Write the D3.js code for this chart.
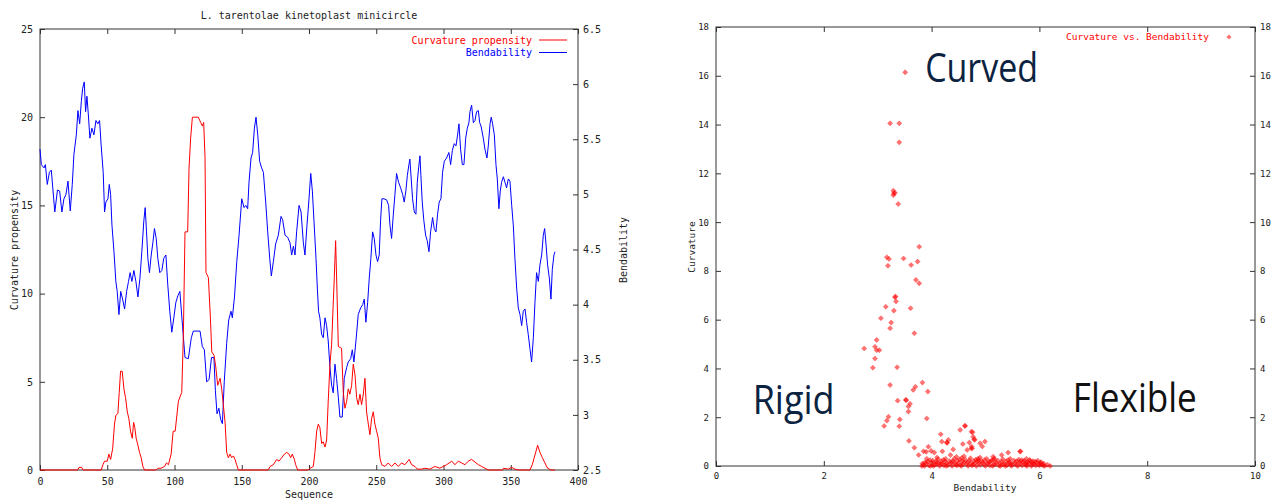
<!DOCTYPE html>
<html>
<head>
<meta charset="utf-8">
<script src="https://cdn.jsdelivr.net/npm/d3@7"></script>
<style>
  body { margin: 0; background: #fff; }
  svg { display: block; }
</style>
</head>
<body>
<script>
// ---- data ----
var seqTicks = [0, 50, 100, 150, 200, 250, 300, 350, 400];
var curvTicks = [0, 5, 10, 15, 20, 25];
var bendTicks = [2.5, 3, 3.5, 4, 4.5, 5, 5.5, 6, 6.5];
var scatXTicks = [0, 2, 4, 6, 8, 10];
var scatYTicks = [0, 2, 4, 6, 8, 10, 12, 14, 16, 18];

// curvature propensity along the sequence [position, value]
var curvature = [[0,0],[28,0],[29,0.15],[31,0.15],[32,0],[45.5,0],[46.8,0.3],[48,0.5],[50,0.5],[51.2,0.9],[52.5,0.6],[54,1.2],[55.4,2.6],[56.4,3.1],[57.9,3.2],[58.9,4.4],[59.9,5.6],[61.1,5.6],[62.4,4.6],[63.6,4.1],[64.9,3.3],[66.1,2.9],[67.3,2.2],[68.6,1.8],[69.6,2.7],[70.5,2.4],[71.5,1.8],[72.8,1.4],[74,1.0],[75.2,0.7],[76.5,0.2],[77.7,0],[86.4,0],[87.6,0.1],[90,0.1],[92.6,0.2],[94,0.4],[95.5,0.3],[97.5,0.9],[99,2.2],[100.5,2.2],[102.9,3.9],[105.4,4.4],[106.6,7.7],[107.8,13.5],[109.8,13.5],[110.8,17.1],[112,18.8],[113.3,20.0],[117.7,20.0],[119.5,19.7],[120.7,19.5],[121.7,19.7],[122.7,17.7],[123.4,11.2],[125.2,10.9],[126.7,8.6],[127.7,6.7],[129.4,6.5],[130.6,5.9],[132.1,4.8],[133.9,5.2],[135.1,4.6],[136.3,3.7],[137.6,2.7],[138.8,1.0],[140,0.7],[141.3,0.9],[142.5,0.7],[143.8,0.8],[145,0.6],[146.2,0.3],[147.5,0],[169.8,0],[171,0.2],[173.5,0.3],[176,0.6],[177.7,0.5],[179.7,0.7],[181.7,0.9],[183.4,1.0],[185.1,0.9],[186.4,0.7],[187.6,0.9],[189.1,0.6],[190.1,0.3],[191.6,0],[199.5,0],[200.8,0.1],[203.2,0.2],[204.4,1.0],[205.7,2.2],[206.9,2.6],[208.1,2.4],[209.4,1.5],[210.6,1.6],[211.9,1.3],[213.1,1.7],[214.3,3.9],[215.6,6.0],[216.8,7.1],[218,9.4],[218.8,10.9],[219.8,13.0],[220.8,10.1],[221.8,7.0],[224.2,6.9],[225.5,4.4],[226.7,3.5],[228,3.9],[229.2,4.6],[230.4,4.3],[231.7,4.8],[232.9,6.0],[234.2,5.4],[235.4,4.1],[236.6,3.7],[237.9,4.3],[239.1,3.7],[240.4,4.3],[241.6,5.2],[242.8,3.3],[244.1,2.6],[245.3,2.0],[246.5,2.9],[247.8,3.3],[249,2.6],[250.3,2.2],[251.5,1.8],[252.7,0.7],[254,0.3],[256.5,0.2],[258.9,0.4],[261.4,0.2],[263.9,0.4],[266.4,0.2],[268.8,0.4],[271.3,0.3],[274.5,0.6],[276.3,0.3],[278.8,0.2],[280.5,0.05],[283.7,0.05],[286.2,0.1],[289.9,0.05],[293.6,0.2],[297.3,0.1],[299.8,0.2],[302.3,0.3],[306.1,0.5],[308.5,0.3],[311,0.5],[313.5,0.4],[316,0.3],[318.4,0.5],[320.9,0.6],[323.4,0.45],[325.9,0.3],[328.4,0.2],[330.8,0.1],[333.3,0],[344,0],[344.5,0.1],[348.2,0.05],[350.7,0.15],[353.1,0.05],[355.6,0],[364.3,0],[366,0.3],[368,0.85],[370,1.4],[371.7,1.0],[373.5,0.7],[375.4,0.4],[377.4,0.1],[379.9,0],[382.9,0]];

// bendability along the sequence [position, value]
var bendability = [[0,5.41],[1,5.27],[3,5.24],[4,5.27],[5.4,5.09],[7,5.20],[8.4,5.22],[9.7,5.03],[11,4.84],[13,5.04],[14.6,5.03],[16.3,4.84],[17.8,4.96],[19.3,5.00],[20.8,5.12],[22.5,4.85],[24,5.09],[25.2,5.36],[27,5.54],[28.2,5.76],[29.5,5.64],[30.7,5.84],[31.7,5.96],[32.9,6.02],[33.9,5.75],[34.9,5.89],[35.9,5.73],[37.1,5.51],[38.6,5.60],[40.1,5.54],[41.6,5.67],[43,5.64],[44.3,5.67],[45.5,5.44],[47,5.20],[48,4.84],[49,4.93],[50.5,4.96],[51.5,5.09],[52.5,5.00],[53.5,4.72],[55,4.48],[56.4,4.21],[57.4,4.12],[58.7,3.91],[60,4.12],[61.4,4.05],[62.9,3.96],[64.4,4.12],[65.8,4.21],[67,4.29],[68.3,4.21],[69.8,4.31],[71.3,4.21],[72.8,4.07],[74.3,4.24],[75.7,4.48],[77.2,4.76],[78.2,4.88],[79.2,4.66],[80.2,4.42],[81.4,4.29],[82.7,4.45],[83.9,4.56],[85.1,4.69],[86.4,4.60],[87.6,4.42],[89.1,4.29],[90.6,4.31],[92,4.42],[93.6,4.45],[95,4.18],[96.5,3.94],[98,3.75],[99.5,3.88],[101,4.02],[102.5,4.08],[104,4.12],[106,3.80],[107.8,3.52],[110.3,3.51],[112.5,3.70],[114,3.76],[119,3.76],[120.7,3.62],[122.2,3.59],[123.9,3.30],[125.7,3.32],[127.5,3.52],[129.3,3.52],[130.4,3.22],[131.6,3.01],[133,3.06],[134.3,2.96],[135.6,2.92],[137,3.30],[138.8,3.65],[140.3,3.86],[142,3.94],[143,3.88],[144.6,4.07],[146.3,4.39],[148,4.63],[150,4.96],[151.7,4.88],[153,4.90],[154.4,4.87],[155.4,5.11],[156.9,5.33],[158.1,5.38],[159.4,5.60],[160.6,5.70],[161.9,5.54],[163.3,5.30],[164.8,5.24],[166.1,5.20],[167.8,4.93],[169.3,4.66],[170.8,4.42],[172,4.26],[173.5,4.39],[175.2,4.55],[177.2,4.63],[179.2,4.80],[180.4,4.77],[182.2,4.63],[184.2,4.61],[185.9,4.56],[187.1,4.45],[188.4,4.53],[189.6,4.45],[190.8,4.66],[192.6,4.90],[194.1,4.84],[195.8,4.56],[197,4.45],[198.5,4.72],[200,4.96],[201.3,5.19],[202.5,5.03],[203.7,4.76],[205.2,4.42],[206.2,4.15],[207.1,3.94],[208.1,3.88],[209.4,3.73],[210.6,3.70],[211.9,3.88],[213.1,3.81],[214.3,3.67],[215.6,3.43],[216.8,3.27],[218,3.20],[219.3,3.46],[220.5,3.33],[221.8,3.16],[223,2.98],[224.7,2.98],[226.2,3.33],[228,3.43],[229.2,3.48],[231,3.51],[232.2,3.59],[233.4,3.48],[234.9,3.67],[236.6,3.91],[238.4,3.97],[239.9,4.00],[241.1,4.05],[242.3,3.84],[243.6,4.02],[244.8,4.24],[246,4.42],[247.3,4.66],[248.5,4.60],[249.8,4.45],[251,4.39],[252.2,4.45],[253.2,4.76],[254.2,4.96],[255.7,4.96],[257.7,4.95],[259.2,4.90],[260.2,4.72],[261.4,4.60],[262.7,4.82],[263.9,5.00],[265.1,5.19],[266.6,5.11],[268.1,5.06],[269.6,5.00],[270.8,4.93],[272.1,5.04],[273.1,5.17],[274.3,5.27],[275,5.32],[276,5.14],[277,4.96],[278.3,4.84],[279.5,4.82],[280.5,5.11],[281.5,5.24],[282.5,5.35],[283.2,5.17],[284.2,4.93],[285.4,4.76],[286.7,4.63],[287.9,4.58],[289.2,4.48],[290.4,4.66],[291.9,4.79],[293.1,4.69],[294.4,4.66],[295.6,4.82],[296.8,4.93],[298.1,4.96],[299.3,5.20],[300.6,5.30],[302.3,5.33],[304,5.38],[305.3,5.27],[306.6,5.40],[308,5.46],[309.3,5.44],[310.5,5.54],[311.5,5.64],[312.7,5.41],[314,5.27],[315.2,5.27],[316.5,5.51],[317.7,5.60],[318.9,5.65],[319.7,5.75],[320.9,5.81],[322.2,5.65],[323.4,5.67],[324.6,5.75],[325.9,5.76],[326.9,5.65],[327.9,5.62],[329.6,5.51],[330.8,5.41],[332.3,5.33],[333.3,5.44],[334.6,5.64],[335.5,5.70],[336.5,5.64],[337.8,5.54],[339,5.27],[340,5.14],[341.2,4.87],[342.2,5.03],[343.2,5.11],[344.5,5.16],[345.7,5.11],[346.9,5.06],[348.2,5.14],[349.4,5.12],[350.7,4.90],[351.9,4.72],[353.1,4.42],[354.4,4.15],[355.6,3.97],[356.9,3.91],[358.1,3.81],[359.3,3.94],[360.6,3.96],[361.8,3.84],[363,3.73],[364.3,3.60],[365.5,3.48],[366.8,3.70],[368,4.02],[369.2,4.29],[370.5,4.21],[371.7,4.36],[373,4.45],[374.2,4.63],[375.2,4.69],[376.2,4.55],[377.4,4.36],[378.7,4.24],[379.9,4.05],[380.9,4.32],[382.1,4.45],[382.9,4.48]];

// curvature vs bendability scatter [bendability, curvature]
var scatter = [[3.51,16.14],[3.23,14.05],[3.40,14.05],[3.40,13.27],[3.29,11.29],[3.30,11.18],[3.32,11.2],[3.29,11.1],[3.38,10.74],[3.77,8.99],
  [3.17,8.56],[3.21,8.49],[3.19,8.21],[3.48,8.51],[3.62,8.24],[3.74,8.38],[3.71,7.63],[3.77,7.49],[3.32,6.92],[3.33,6.95],[3.34,6.75],
  [3.15,6.53],[3.30,6.37],[3.61,6.47],[3.06,6.06],[3.25,5.88],[3.23,5.65],[3.68,5.44],[2.98,5.17],[2.95,4.89],[2.75,4.82],[3.03,4.75],
  [2.98,4.75],[2.95,4.41],[2.91,4.03],[3.36,4.05],[3.83,3.42],[3.70,3.25],[3.66,3.12],[3.23,3.32],[3.93,3.05],[3.37,2.68],[3.52,2.71],
  [3.53,2.70],[3.60,2.55],[3.57,2.44],[3.57,2.23],[3.91,1.95],[3.20,2.02],[3.17,1.86],[3.12,1.64],[3.41,1.91],[3.40,1.63],[3.58,1.03],
  [3.68,0.75],[3.76,0.45],[3.94,0.79],[3.85,0.6],[3.9,0.58],[3.99,0.62],[4.05,0.55],[4.17,1.30],[4.19,1.0],[4.28,0.96],[4.29,0.95],
  [4.31,1.07],[4.2,0.6],[4.40,0.68],[4.46,0.38],[4.53,1.48],[4.62,1.65],[4.58,0.9],[4.70,0.96],[4.74,0.72],[4.75,0.73],[4.76,1.38],
  [4.79,1.1],[4.62,1.64],[4.74,1.41],[4.77,1.2],[4.80,1.07],[4.74,0.8],[4.90,0.93],[4.99,1.0],[4.94,0.8],[4.66,0.66],[5.14,0.38],
  [5.30,0.45],[5.42,0.55],[5.64,0.59],[5.65,0.6],[5.76,0.30],[5.82,0.25],[4.35,0.45],[4.1,0.35],[4.6,0.4],[4.9,0.35],
  [3.85,0.05],[3.9,0.1],[3.95,0.02],[4.0,0.12],[4.05,0.04],[4.1,0.15],[4.15,0.0],[4.2,0.08],[4.25,0.18],[4.3,0.03],[4.35,0.1],
  [4.4,0.2],[4.45,0.05],[4.5,0.12],[4.55,0.0],[4.6,0.16],[4.65,0.07],[4.7,0.22],[4.75,0.02],[4.8,0.11],[4.85,0.18],[4.9,0.04],
  [4.95,0.14],[5.0,0.0],[5.05,0.1],[5.1,0.2],[5.15,0.05],[5.2,0.13],[5.25,0.01],[5.3,0.17],[5.35,0.08],[5.4,0.03],[5.45,0.15],
  [5.5,0.06],[5.55,0.12],[5.6,0.0],[5.65,0.1],[5.7,0.18],[5.75,0.04],[5.8,0.11],[5.85,0.0],[5.9,0.08],[5.95,0.14],[6.0,0.02],
  [6.05,0.06],[6.1,0.0],[6.2,0.0],[3.88,0.15],[3.98,0.0],[4.08,0.06],[4.18,0.2],[4.28,0.1],[4.38,0.0],[4.48,0.22],[4.58,0.06],
  [4.68,0.0],[4.78,0.2],[4.88,0.12],[4.98,0.24],[5.08,0.02],[5.18,0.08],[5.28,0.0],[5.38,0.2],[5.48,0.0],[5.58,0.2],[5.68,0.02],
  [5.78,0.16],[5.88,0.2],[5.98,0.06],[6.08,0.1],[3.82,0.0],[4.12,0.28],[4.42,0.3],[4.72,0.32],[5.02,0.3],[5.32,0.28],[5.62,0.26],
  [4.02,0.22],[4.22,0.25],[4.52,0.27],[4.82,0.26],[5.12,0.22],[5.42,0.24],[5.72,0.22],[5.92,0.18],[6.02,0.12],
  [3.83,0.1],[3.93,0.18],[4.03,0.0],[4.13,0.1],[4.23,0.02],[4.33,0.2],[4.43,0.1],[4.53,0.04],[4.63,0.25],[4.73,0.1],[4.83,0.0],
  [4.93,0.2],[5.03,0.12],[5.13,0.0],[5.23,0.22],[5.33,0.06],[5.43,0.12],[5.53,0.22],[5.63,0.14],[5.73,0.08],[5.83,0.2],[5.93,0.02],
  [6.03,0.16],[3.87,0.0],[3.97,0.24],[4.07,0.18],[4.17,0.1],[4.27,0.0],[4.37,0.16],[4.47,0.02],[4.57,0.2],[4.67,0.14],[4.77,0.06],
  [4.87,0.24],[4.97,0.06],[5.07,0.18],[5.17,0.26],[5.27,0.1],[5.37,0.0],[5.47,0.08],[5.57,0.04],[5.67,0.24],[5.77,0.0],[5.87,0.12],
  [5.97,0.22],[6.07,0.02],[6.15,0.05],[4.26,0.3],[4.56,0.33],[4.86,0.3],[5.16,0.32],[5.46,0.3],[5.76,0.1],[5.86,0.06],[3.91,0.3]];

var notes = ["Curved", "Rigid", "Flexible"];

// ---- page ----
var W = 1284, H = 502;
var mono = "'DejaVu Sans Mono', monospace";
var svg = d3.select("body").append("svg").attr("width", W).attr("height", H);

function styleAxis(g, size) {
    g.select(".domain").remove();
    g.selectAll(".tick line").attr("stroke", "#333");
    g.selectAll(".tick text").attr("font-family", mono).attr("font-size", size).attr("fill", "#222");
}

// ================= left: sequence profile =================
var xL = d3.scaleLinear().domain([0, 400]).range([40, 578]);
var yL = d3.scaleLinear().domain([0, 25]).range([470, 29]);
var yR = d3.scaleLinear().domain([2.5, 6.5]).range([470, 29]);

svg.append("g").attr("transform", "translate(0,470)")
    .call(d3.axisBottom(xL).tickValues(seqTicks).tickSize(-5).tickPadding(8))
    .call(styleAxis, 10);
svg.append("g").attr("transform", "translate(0,29)")
    .call(d3.axisTop(xL).tickValues(seqTicks).tickSize(-5).tickFormat(""))
    .call(styleAxis, 10);
svg.append("g").attr("transform", "translate(40,0)")
    .call(d3.axisLeft(yL).tickValues(curvTicks).tickSize(-5).tickPadding(7))
    .call(styleAxis, 10);
svg.append("g").attr("transform", "translate(578,0)")
    .call(d3.axisRight(yR).tickValues(bendTicks).tickSize(-5).tickPadding(5).tickFormat(d => String(d)))
    .call(styleAxis, 10);

svg.append("rect").attr("x", 40).attr("y", 29).attr("width", 538).attr("height", 441)
    .attr("fill", "none").attr("stroke", "#333");

var lineCurv = d3.line().x(d => xL(d[0])).y(d => yL(d[1]));
var lineBend = d3.line().x(d => xL(d[0])).y(d => yR(d[1]));

svg.append("path").datum(bendability).attr("d", lineBend)
    .attr("fill", "none").attr("stroke", "#0000ff").attr("stroke-width", 1);
svg.append("path").datum(curvature).attr("d", lineCurv)
    .attr("fill", "none").attr("stroke", "#ff0000").attr("stroke-width", 1);

svg.append("text").attr("x", 309).attr("y", 19).attr("text-anchor", "middle")
    .attr("font-family", mono).attr("font-size", 10).attr("fill", "#222")
    .text("L. tarentolae kinetoplast minicircle");
svg.append("text").attr("x", 309).attr("y", 498).attr("text-anchor", "middle")
    .attr("font-family", mono).attr("font-size", 10).attr("fill", "#222").text("Sequence");
svg.append("text").attr("transform", "translate(18,250) rotate(-90)").attr("text-anchor", "middle")
    .attr("font-family", mono).attr("font-size", 10).attr("fill", "#222").text("Curvature propensity");
svg.append("text").attr("transform", "translate(627,250) rotate(-90)").attr("text-anchor", "middle")
    .attr("font-family", mono).attr("font-size", 10).attr("fill", "#222").text("Bendability");

var legL = [["Curvature propensity", "#ff0000"], ["Bendability", "#0000ff"]];
legL.forEach(function (l, i) {
    var y = 40 + i * 12.5;
    svg.append("text").attr("x", 532).attr("y", y + 3.5).attr("text-anchor", "end")
        .attr("font-family", mono).attr("font-size", 10).attr("fill", l[1]).text(l[0]);
    svg.append("line").attr("x1", 539).attr("x2", 567).attr("y1", y).attr("y2", y)
        .attr("stroke", l[1]).attr("stroke-width", 1);
});

// ================= right: scatter =================
var xS = d3.scaleLinear().domain([0, 10]).range([716, 1255]);
var yS = d3.scaleLinear().domain([0, 18]).range([466, 27]);

svg.append("g").attr("transform", "translate(0,466)")
    .call(d3.axisBottom(xS).tickValues(scatXTicks).tickSize(-5).tickPadding(7))
    .call(styleAxis, 9);
svg.append("g").attr("transform", "translate(0,27)")
    .call(d3.axisTop(xS).tickValues(scatXTicks).tickSize(-5).tickFormat(""))
    .call(styleAxis, 9);
svg.append("g").attr("transform", "translate(716,0)")
    .call(d3.axisLeft(yS).tickValues(scatYTicks).tickSize(-5).tickPadding(7))
    .call(styleAxis, 9);
svg.append("g").attr("transform", "translate(1255,0)")
    .call(d3.axisRight(yS).tickValues(scatYTicks).tickSize(-5).tickPadding(5))
    .call(styleAxis, 9);

svg.append("rect").attr("x", 716).attr("y", 27).attr("width", 539).attr("height", 439)
    .attr("fill", "none").attr("stroke", "#333");

var diamond = d3.symbol().type(d3.symbolSquare).size(13);
svg.append("g").selectAll("path").data(scatter).join("path")
    .attr("d", diamond)
    .attr("transform", d => "translate(" + xS(d[0]) + "," + yS(d[1]) + ") rotate(45)")
    .attr("fill", "#ff0000").attr("fill-opacity", 0.55)
    .attr("stroke", "#ff0000").attr("stroke-opacity", 0.5).attr("stroke-width", 0.5);

svg.append("text").attr("x", 1209).attr("y", 40).attr("text-anchor", "end")
    .attr("font-family", mono).attr("font-size", 9.5).attr("fill", "#ff0000")
    .text("Curvature vs. Bendability");
svg.append("path").attr("d", diamond).attr("transform", "translate(1229,37) rotate(45)")
    .attr("fill", "#ff0000").attr("fill-opacity", 0.55);

svg.append("text").attr("x", 985).attr("y", 491).attr("text-anchor", "middle")
    .attr("font-family", mono).attr("font-size", 9.5).attr("fill", "#222").text("Bendability");
svg.append("text").attr("transform", "translate(695,247) rotate(-90)").attr("text-anchor", "middle")
    .attr("font-family", mono).attr("font-size", 9.5).attr("fill", "#222").text("Curvature");

// big region labels, placed in data coordinates
var big = "'Liberation Sans Narrow', 'Open Sans', sans-serif";
var notePos = [[3.88, 15.76, 113, "#0b2341"], [0.68, 2.13, 82, "#0b2341"], [6.62, 2.23, 124, "#111111"]];
notes.forEach(function (t, i) {
    var p = notePos[i];
    svg.append("text").attr("x", xS(p[0])).attr("y", yS(p[1]))
        .attr("font-family", big).attr("font-size", 41).attr("fill", p[3])
        .attr("textLength", p[2]).attr("lengthAdjust", "spacingAndGlyphs")
        .text(t);
});
</script>
</body>
</html>
